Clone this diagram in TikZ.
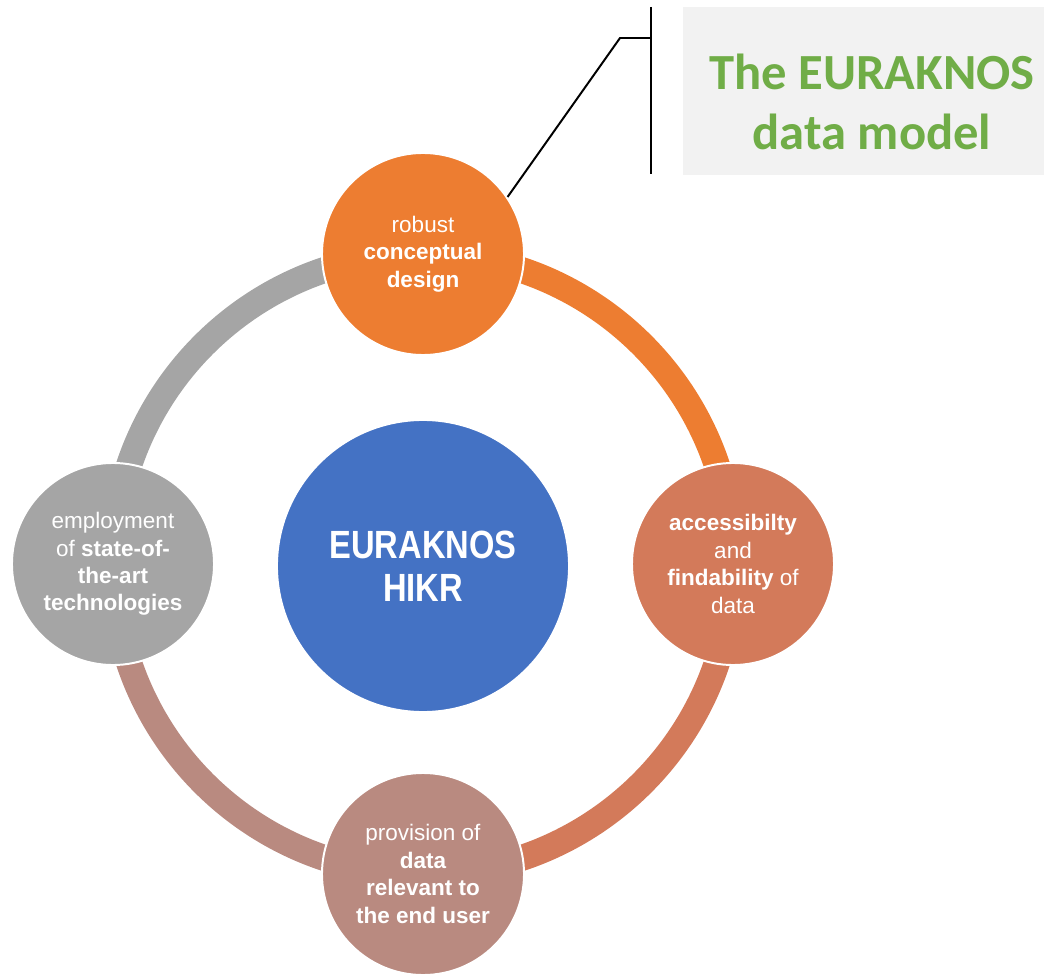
\documentclass[tikz,border=0pt]{standalone}
\usepackage{fontspec}
\setmainfont{Liberation Sans}
\newfontfamily\calib{Carlito}
\newfontfamily\narrow[FakeStretch=0.83]{Liberation Sans}
\usepackage{tikz}
\definecolor{topcol}{HTML}{ED7D31}
\definecolor{rightcol}{HTML}{D37A5A}
\definecolor{bottomcol}{HTML}{B98A80}
\definecolor{leftcol}{HTML}{A5A5A5}
\definecolor{hubcol}{HTML}{4472C4}
\definecolor{titlecol}{HTML}{70AD47}
\definecolor{boxcol}{HTML}{F2F2F2}

\begin{document}
\begin{tikzpicture}[x=0.025cm,y=0.025cm]
	\tikzstyle{vertex}=[circle,draw=white,line width=1.4pt,minimum size=5.05cm,inner sep=0pt,text=white,align=center,font=\fontsize{16}{19.5}\selectfont]
	\tikzstyle{ring}=[line width=18.5pt]
	\useasboundingbox (0,0) rectangle (1044,976);
	\coordinate (c1) at (423,722);
	\coordinate (c2) at (733,412);
	\coordinate (c3) at (423,102);
	\coordinate (c4) at (113,412);
	\draw[ring,topcol] (c1) arc[start angle=90,end angle=0,radius=310];
	\draw[ring,rightcol] (c2) arc[start angle=0,end angle=-90,radius=310];
	\draw[ring,bottomcol] (c3) arc[start angle=-90,end angle=-180,radius=310];
	\draw[ring,leftcol] (c4) arc[start angle=180,end angle=90,radius=310];
	\node[vertex,fill=hubcol,minimum size=7.3cm,font=\narrow\bfseries\fontsize{28}{30.6}\selectfont] (0) at (423,410) {EURAKNOS\\HIKR};
	\node[vertex,fill=topcol] (1) at (c1) {robust\\\textbf{conceptual}\\\textbf{design}};
	\node[vertex,fill=rightcol] (2) at (c2) {\textbf{accessibilty}\\and\\\textbf{findability} of\\data};
	\node[vertex,fill=bottomcol] (3) at (c3) {provision of\\\textbf{data}\\\textbf{relevant to}\\\textbf{the end user}};
	\node[vertex,fill=leftcol] (4) at (c4) {employment\\of \textbf{state-of-}\\\textbf{the-art}\\\textbf{technologies}};
	% callout
	\node[fill=boxcol,minimum width=9.025cm,minimum height=4.2cm,inner sep=0pt] (5) at (863.5,885) {};
	\node[text=titlecol,align=center,inner sep=0pt,font=\calib\bfseries\fontsize{36}{42.7}\selectfont] (title) at (872,874) {The EURAKNOS\\data model};
	\coordinate (6) at (620,938);
	\coordinate (7) at (651,938);
	\coordinate (8) at (651,969);
	\coordinate (9) at (651,802);
	\draw[line width=1.4pt] (1.34) -- (6) -- (7);
	\draw[line width=1.4pt] (8) -- (9);
\end{tikzpicture}
\end{document}
